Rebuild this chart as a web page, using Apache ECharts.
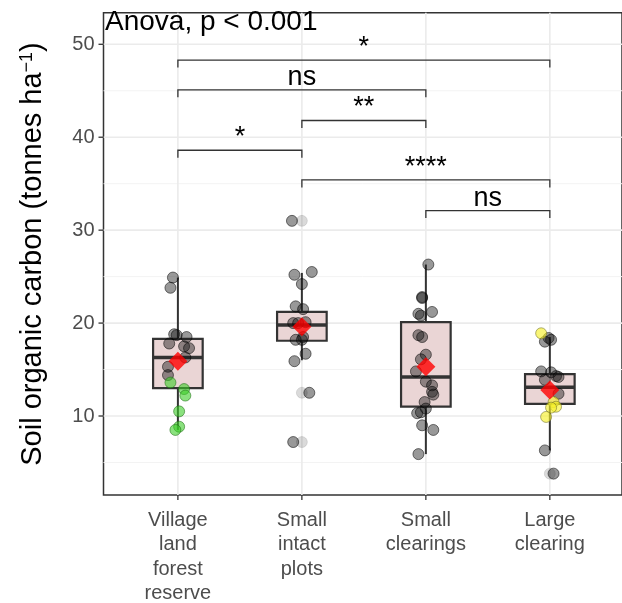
<!DOCTYPE html>
<html lang="en">
<head>
    <meta charset="UTF-8">
    <title>Soil organic carbon</title>
    <script src="https://cdn.jsdelivr.net/npm/echarts@6/dist/echarts.min.js"></script>
    <style>
        body { margin: 0; background: #fff; }
        #chart { width: 622px; height: 603px; }
    </style>
</head>
<body>
    <div id="chart"></div>
    <script type="text/javascript">
        // groups along the x axis (positions 1..4)
        const categories = ['Village\nland\nforest\nreserve', 'Small\nintact\nplots', 'Small\nclearings', 'Large\nclearing'];
        const yTicks = [10, 20, 30, 40, 50];
        const yMinor = [5, 15, 25, 35, 45];

        // [lower whisker, Q1, median, Q3, upper whisker]
        const boxStats = [
            [8.5, 13.0, 16.3, 18.3, 24.9],
            [16.0, 18.1, 19.8, 21.2, 25.4],
            [5.9, 11.0, 14.2, 20.1, 26.3],
            [6.3, 11.3, 13.1, 14.5, 18.5]
        ];
        const means = [15.9, 19.6, 15.3, 12.8];

        // jittered observations [x, value]
        const greyPoints = [
            [0.96, 24.9], [0.94, 23.8], [0.97, 18.8], [0.99, 18.7], [1.07, 18.5], [0.93, 17.8],
            [1.05, 17.5], [1.09, 17.3], [1.06, 16.3], [0.92, 15.3], [0.92, 14.4],
            [1.92, 31.0], [1.94, 25.2], [2.08, 25.5], [2.00, 24.2], [1.95, 21.8], [2.01, 21.5],
            [1.93, 20.0], [2.03, 20.1], [1.97, 20.0], [2.01, 18.5], [2.00, 18.2], [1.95, 18.2],
            [2.03, 16.7], [1.94, 15.9], [2.06, 12.5], [1.93, 7.2],
            [3.02, 26.3], [2.97, 22.8], [2.97, 22.7], [2.94, 21.0], [3.05, 21.2], [2.96, 20.8],
            [2.94, 18.7], [2.97, 18.5], [3.00, 16.6], [2.96, 16.1], [2.92, 14.8], [3.00, 13.7],
            [3.05, 13.3], [3.05, 12.6], [3.06, 12.3], [2.99, 11.5], [3.00, 10.8], [2.93, 10.3],
            [2.96, 10.4], [2.97, 9.0], [3.06, 8.5], [2.94, 5.9],
            [3.99, 18.4], [4.01, 18.2], [3.96, 18.0], [3.93, 14.8], [4.01, 14.7], [4.05, 14.3],
            [4.07, 14.2], [3.96, 13.9], [4.07, 12.4], [3.96, 6.3], [4.03, 3.8]
        ];
        const greenPoints = [[0.94, 13.6], [1.05, 12.9], [1.06, 12.2], [1.01, 10.5], [1.01, 8.85], [0.98, 8.5]];
        const yellowPoints = [[3.93, 18.9], [4.03, 11.5], [4.05, 11.0], [4.01, 10.9], [3.97, 9.9]];
        const outliers = [[2, 31.0], [2, 12.5], [2, 7.2], [4, 3.8]];

        // pairwise comparisons [from, to, bracket height, label]
        const comparisons = [
            [1, 4, 48.3, '*'],
            [1, 3, 45.1, 'ns'],
            [2, 3, 41.8, '**'],
            [1, 2, 38.6, '*'],
            [2, 4, 35.4, '****'],
            [3, 4, 32.1, 'ns']
        ];

        const FONT = '"Liberation Sans", Arial, sans-serif';
        const Y_MIN = 1.5, Y_MAX = 53.4;

        let chart = echarts.init(document.getElementById('chart'), null, { renderer: 'canvas' });

        chart.setOption({
            animation: false,
            backgroundColor: '#fff',
            grid: {
                left: 103.5, right: -2, top: 12.7, bottom: 108,
                show: true, borderColor: '#333', borderWidth: 1.5, backgroundColor: 'transparent'
            },
            xAxis: {
                type: 'value', min: 0.4, max: 4.582,
                axisLine: { show: false }, axisTick: { show: false },
                axisLabel: { show: false }, splitLine: { show: false }
            },
            yAxis: {
                type: 'value', min: Y_MIN, max: Y_MAX,
                axisLine: { show: false }, axisTick: { show: false },
                axisLabel: { show: false }, splitLine: { show: false }
            },
            graphic: [
                {
                    type: 'text', left: 105, top: 8, z: 100,
                    style: { text: 'Anova, p < 0.001', font: '28px ' + FONT, fill: '#000' }
                },
                {
                    type: 'text', x: 33, y: 254, rotation: Math.PI / 2, z: 100,
                    style: {
                        text: 'Soil organic carbon (tonnes ha{sup|\u22121})',
                        font: '29px ' + FONT, fill: '#000',
                        align: 'center', verticalAlign: 'middle',
                        rich: {
                            sup: { fontSize: 18, fontFamily: FONT, verticalAlign: 'top', padding: [0, 0, 12, 0] }
                        }
                    }
                }
            ],
            series: [
                {
                    // horizontal grid lines + y tick labels
                    type: 'custom', z: 1, silent: true,
                    data: yMinor.map(v => [v, 0]).concat(yTicks.map(v => [v, 1])),
                    renderItem: (params, api) => {
                        const cs = params.coordSys;
                        const y = api.coord([1, api.value(0)])[1];
                        const major = api.value(1) === 1;
                        const children = [{
                            type: 'line',
                            shape: { x1: cs.x, y1: y, x2: cs.x + cs.width, y2: y },
                            style: { stroke: major ? '#EBEBEB' : '#F3F3F3', lineWidth: major ? 1.6 : 1 }
                        }];
                        if (major) {
                            children.push({
                                type: 'line',
                                shape: { x1: cs.x - 5, y1: y, x2: cs.x, y2: y },
                                style: { stroke: '#333', lineWidth: 1.3 }
                            }, {
                                type: 'text',
                                style: {
                                    text: String(api.value(0)), x: cs.x - 9, y: y,
                                    align: 'right', verticalAlign: 'middle',
                                    font: '20px ' + FONT, fill: '#4D4D4D'
                                }
                            });
                        }
                        return { type: 'group', children };
                    }
                },
                {
                    // vertical grid lines + x tick labels
                    type: 'custom', z: 1, silent: true, clip: false,
                    data: categories.map((c, i) => [i + 1]),
                    renderItem: (params, api) => {
                        const cs = params.coordSys;
                        const x = api.coord([api.value(0), Y_MIN])[0];
                        const bottom = cs.y + cs.height;
                        return {
                            type: 'group',
                            children: [
                                {
                                    type: 'line',
                                    shape: { x1: x, y1: cs.y, x2: x, y2: bottom },
                                    style: { stroke: '#EBEBEB', lineWidth: 1.6 }
                                },
                                {
                                    type: 'line',
                                    shape: { x1: x, y1: bottom, x2: x, y2: bottom + 5 },
                                    style: { stroke: '#333', lineWidth: 1.3 }
                                },
                                {
                                    type: 'text',
                                    style: {
                                        text: categories[params.dataIndex], x: x, y: bottom + 13,
                                        align: 'center', verticalAlign: 'top', lineHeight: 24.5,
                                        font: '20px ' + FONT, fill: '#4D4D4D'
                                    }
                                }
                            ]
                        };
                    }
                },
                {
                    // boxes and whiskers
                    type: 'custom', z: 2, silent: true,
                    data: boxStats.map((s, i) => [i + 1].concat(s)),
                    renderItem: (params, api) => {
                        const x = api.value(0);
                        const p = k => api.coord([x, api.value(k)]);
                        const left = api.coord([x - 0.2, 0])[0];
                        const right = api.coord([x + 0.2, 0])[0];
                        const lo = p(1), q1 = p(2), med = p(3), q3 = p(4), hi = p(5);
                        const stroke = '#333';
                        return {
                            type: 'group',
                            children: [
                                { type: 'line', shape: { x1: lo[0], y1: lo[1], x2: q1[0], y2: q1[1] }, style: { stroke, lineWidth: 2 } },
                                { type: 'line', shape: { x1: q3[0], y1: q3[1], x2: hi[0], y2: hi[1] }, style: { stroke, lineWidth: 2 } },
                                {
                                    type: 'rect',
                                    shape: { x: left, y: q3[1], width: right - left, height: q1[1] - q3[1] },
                                    style: { fill: '#EAD5D5', stroke, lineWidth: 2.2 }
                                },
                                { type: 'line', shape: { x1: left, y1: med[1], x2: right, y2: med[1] }, style: { stroke, lineWidth: 3.5 } }
                            ]
                        };
                    }
                },
                {
                    type: 'scatter', z: 3, symbolSize: 11, data: outliers,
                    itemStyle: { color: 'rgba(0,0,0,0.18)', borderColor: 'rgba(0,0,0,0.12)', borderWidth: 1 }
                },
                {
                    type: 'scatter', z: 4, symbolSize: 11, data: greyPoints,
                    itemStyle: { color: 'rgba(20,20,20,0.55)', borderColor: 'rgba(0,0,0,0.65)', borderWidth: 1 }
                },
                {
                    type: 'scatter', z: 4, symbolSize: 11, data: greenPoints,
                    itemStyle: { color: 'rgba(60,205,40,0.75)', borderColor: 'rgba(30,110,20,0.7)', borderWidth: 1 }
                },
                {
                    type: 'scatter', z: 4, symbolSize: 11, data: yellowPoints,
                    itemStyle: { color: 'rgba(245,240,40,0.8)', borderColor: 'rgba(110,110,40,0.7)', borderWidth: 1 }
                },
                {
                    type: 'scatter', z: 5, symbol: 'diamond', symbolSize: [19, 19],
                    data: means.map((m, i) => [i + 1, m]),
                    itemStyle: { color: '#FF0000' }
                },
                {
                    // significance brackets
                    type: 'custom', z: 6, silent: true, clip: false,
                    data: comparisons.map(c => [c[0], c[1], c[2]]),
                    renderItem: (params, api) => {
                        const a = api.coord([api.value(0), api.value(2)]);
                        const b = api.coord([api.value(1), api.value(2)]);
                        const tip = api.coord([api.value(0), api.value(2) - 0.8])[1];
                        const label = comparisons[params.dataIndex][3];
                        return {
                            type: 'group',
                            children: [
                                {
                                    type: 'polyline',
                                    shape: { points: [[a[0], tip], [a[0], a[1]], [b[0], b[1]], [b[0], tip]] },
                                    style: { stroke: '#333', lineWidth: 1.3, fill: null }
                                },
                                {
                                    type: 'text',
                                    style: {
                                        text: label, x: (a[0] + b[0]) / 2, y: a[1] + 1,
                                        align: 'center', verticalAlign: 'bottom',
                                        font: '27px ' + FONT, fill: '#000'
                                    }
                                }
                            ]
                        };
                    }
                }
            ]
        });
    </script>
</body>
</html>
